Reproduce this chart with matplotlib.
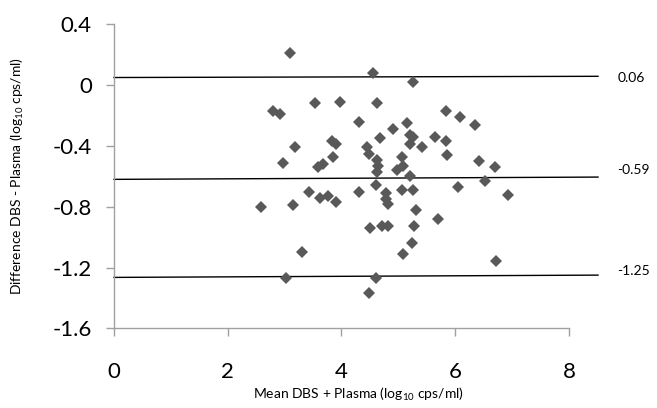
import matplotlib
matplotlib.use("Agg")
import matplotlib.pyplot as plt
from matplotlib.ticker import FuncFormatter

plt.rcParams['font.family'] = ['Lato', 'DejaVu Sans']
plt.rcParams['mathtext.fontset'] = 'custom'
plt.rcParams['mathtext.rm'] = 'Lato'
plt.rcParams['mathtext.default'] = 'regular'
plt.rcParams['axes.unicode_minus'] = False

# mean of DBS and plasma (log10 cps/ml)
mean_vals = [3.09, 4.55, 5.26, 3.53, 3.98, 4.62, 2.80, 2.92, 4.31, 5.83,
             6.08, 6.34, 4.90, 5.16, 4.67, 5.21, 5.26, 5.64, 5.83, 3.18,
             3.83, 3.91, 3.85, 4.44, 4.48, 4.62, 4.65, 4.62, 5.41, 5.21,
             5.85, 5.07, 5.08, 4.97, 5.21, 6.42, 6.70, 6.52, 2.98, 3.59,
             3.67, 3.42, 3.62, 3.77, 3.91, 4.31, 4.60, 6.04, 5.06, 5.25,
             4.79, 4.79, 4.82, 6.92, 2.58, 3.15, 5.31, 5.70, 4.50, 4.71,
             4.82, 5.28, 5.24, 5.09, 3.31, 6.72, 3.02, 4.61, 4.49]
# difference DBS - plasma (log10 cps/ml)
diff_vals = [0.21, 0.08, 0.02, -0.12, -0.11, -0.12, -0.17, -0.19, -0.24, -0.17,
             -0.21, -0.26, -0.29, -0.25, -0.35, -0.33, -0.34, -0.34, -0.37, -0.41,
             -0.37, -0.39, -0.47, -0.41, -0.45, -0.49, -0.53, -0.57, -0.41, -0.39,
             -0.46, -0.47, -0.53, -0.56, -0.60, -0.50, -0.54, -0.63, -0.51, -0.54,
             -0.52, -0.70, -0.74, -0.73, -0.77, -0.70, -0.66, -0.67, -0.69, -0.69,
             -0.71, -0.75, -0.78, -0.72, -0.80, -0.79, -0.82, -0.88, -0.94, -0.93,
             -0.93, -0.93, -1.04, -1.11, -1.10, -1.16, -1.27, -1.27, -1.37]

# bias and limits of agreement (start, end of drawn line)
line_x = [0, 8.51]
upper_y = [0.050, 0.058]
bias_y = [-0.620, -0.605]
lower_y = [-1.265, -1.250]
line_labels = ['0.06', '-0.59', '-1.25']

yticks = [0.4, 0, -0.4, -0.8, -1.2, -1.6]
xticks = [0, 2, 4, 6, 8]

fig = plt.figure(figsize=(6.57, 4.08), dpi=100)
ax = fig.add_axes([0.1735, 0.1953, 0.7445, 0.7451])

for ys, lab, dy in zip([upper_y, bias_y, lower_y], line_labels, [-1, 5, 3]):
    ax.plot(line_x, ys, color='black', linewidth=1.0, zorder=2, clip_on=False)
    ax.annotate(lab, xy=(line_x[1], ys[1]), xytext=(14, dy), textcoords='offset points',
                fontsize=10, va='center', ha='left', annotation_clip=False)

ax.plot(mean_vals, diff_vals, 'D', color='#595959', markersize=6.0,
        markeredgewidth=0, zorder=3, clip_on=False)

ax.set_xlim(0, 8.6)
ax.set_ylim(-1.6, 0.4)
ax.set_xticks(xticks)
ax.set_yticks(yticks)
ax.yaxis.set_major_formatter(FuncFormatter(lambda v, p: '0' if abs(v) < 1e-9 else '%.1f' % v))

for side in ['top', 'right']:
    ax.spines[side].set_visible(False)
for side in ['left', 'bottom']:
    ax.spines[side].set_color('#a0a0a0')
    ax.spines[side].set_linewidth(1.0)
ax.spines['bottom'].set_bounds(0, 8)
ax.tick_params(axis='both', colors='#a0a0a0', length=6, width=1.0, labelcolor='black', labelsize=16)
ax.tick_params(axis='y', pad=10)
ax.tick_params(axis='x', pad=18)

ax.set_xlabel('Mean DBS + Plasma (log$_{10}$ cps/ml)', fontsize=10, labelpad=3)
ax.set_ylabel('Difference DBS - Plasma (log$_{10}$ cps/ml)', fontsize=10, labelpad=19)

fig.savefig('out.png', dpi=100)
